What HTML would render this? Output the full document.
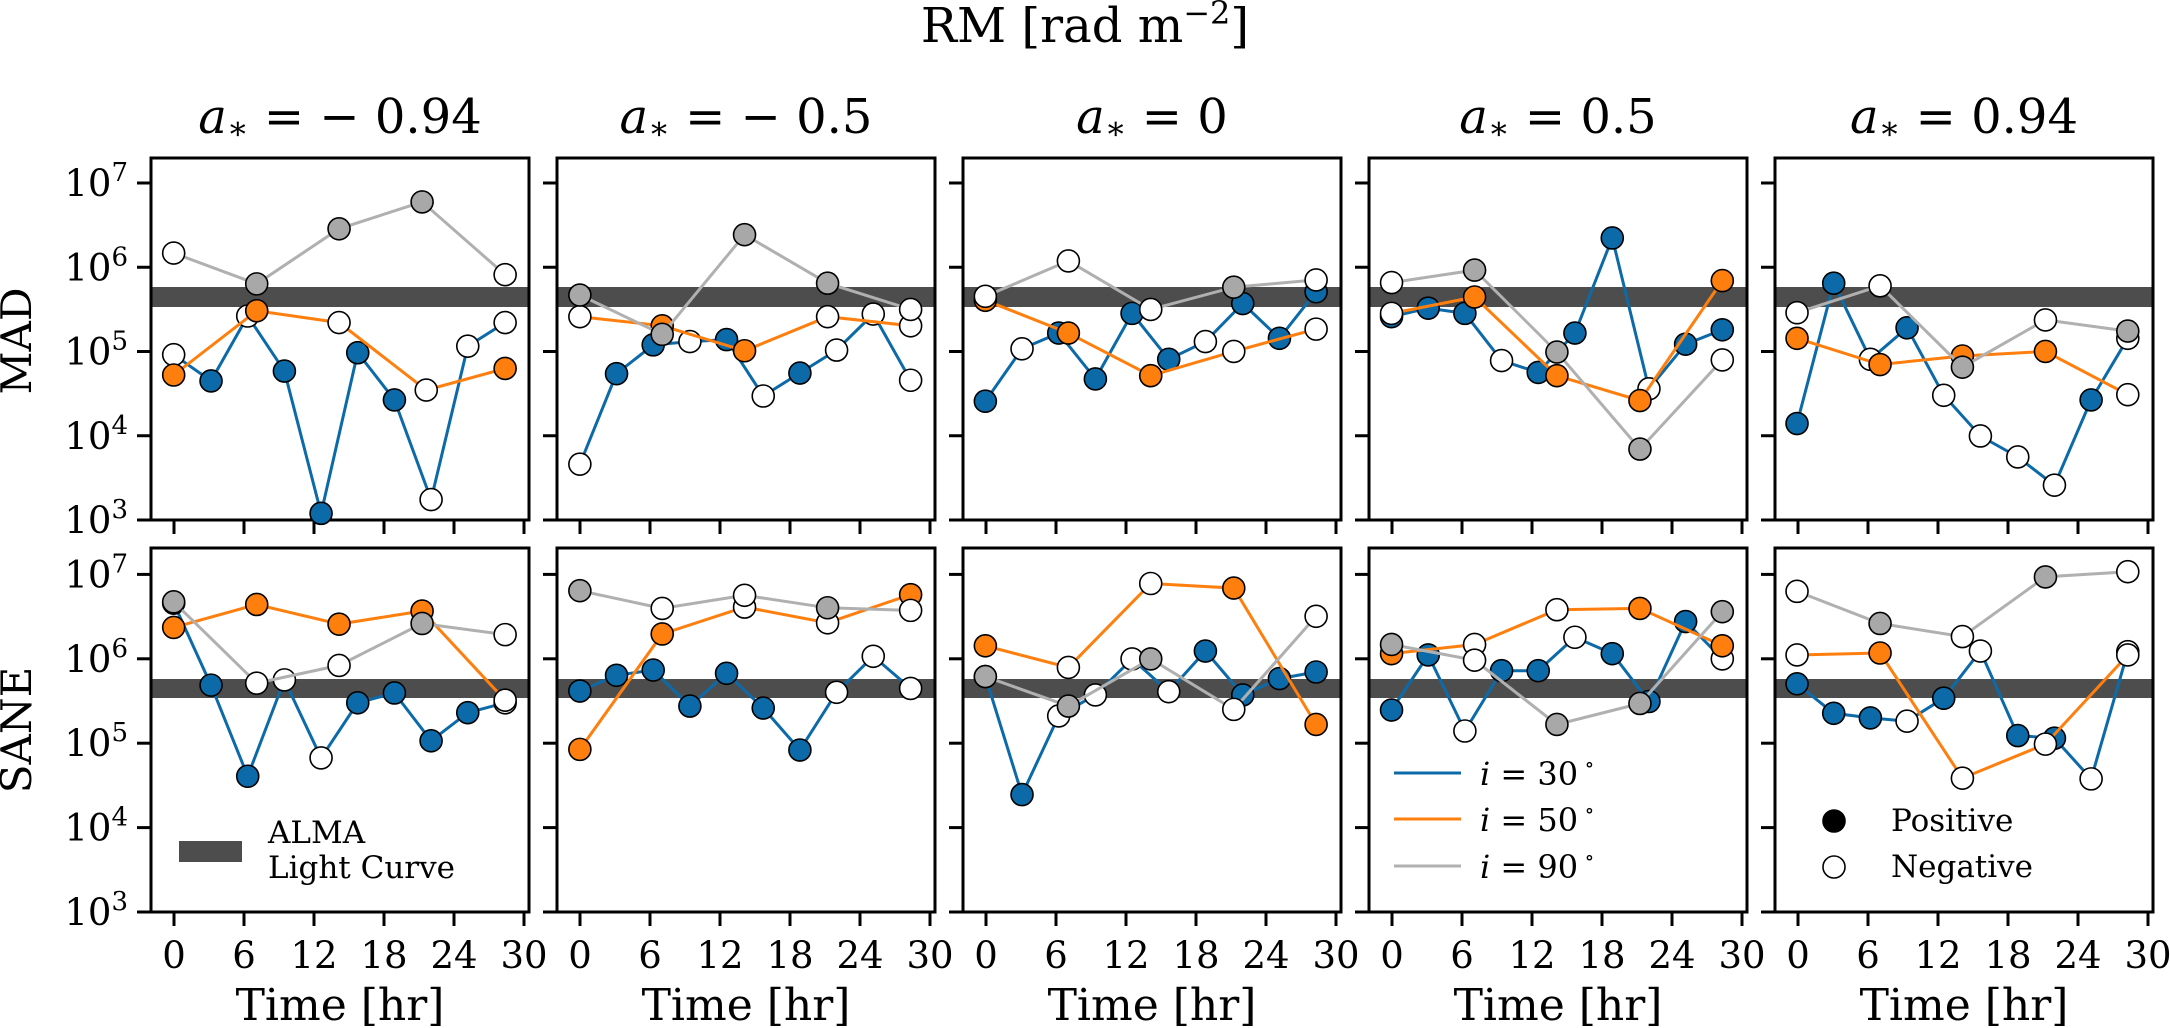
<!DOCTYPE html>
<html><head><meta charset="utf-8"><style>
html,body{margin:0;padding:0;background:#fff;}
svg{display:block;font-family:"DejaVu Serif","Liberation Serif",serif;}
</style></head><body>
<svg id="s" width="2170" height="1028" viewBox="0 0 2170 1028" xmlns="http://www.w3.org/2000/svg">
<text x="1085" y="42" font-size="48" text-anchor="middle">RM [rad m<tspan font-size="32" dy="-18">−2</tspan><tspan dy="18">]</tspan></text>
</svg>
<script>
const S=document.getElementById('s');const NS='http://www.w3.org/2000/svg';
function el(t,a,txt){const e=document.createElementNS(NS,t);for(const k in a)e.setAttribute(k,a[k]);if(txt!==undefined)e.textContent=txt;S.appendChild(e);return e;}
const fx=1085/1568, fy=1028/1568;
const B='#0d6aa8',O='#ff7f0e',G='#b0b0b0',GF='#a8a8a8';
const rows=[{top:158,bot:520,t7:183,dec:84.25,band:[287,307]},{top:548,bot:912,t7:574.4,dec:84.4,band:[679,698]}];
const titles=['= − 0.94','= − 0.5','= 0','= 0.5','= 0.94'];
for(let k=0;k<5;k++){
 const L=151+406*k,W=378;
 el('text',{x:L+W/2,y:133,'font-size':48,'text-anchor':'middle'}).innerHTML='<tspan font-style="italic">a</tspan><tspan font-size="32" dy="6">∗</tspan><tspan dy="-6"> '+titles[k]+'</tspan>';
 rows.forEach((r,ri)=>{
  el('rect',{x:L,y:r.band[0],width:W,height:r.band[1]-r.band[0],fill:'#4d4d4d'});
  for(let i=0;i<5;i++){const y=r.t7+r.dec*i;el('line',{x1:L-14,x2:L,y1:y,y2:y,stroke:'#000','stroke-width':3});
   if(k==0){const t=el('text',{x:128,y:y+13,'font-size':37,'text-anchor':'end'});t.innerHTML='10<tspan font-size="26" dy="-15">'+(7-i)+'</tspan>';}}
  for(let i=0;i<6;i++){const x=L+23+i*70;el('line',{x1:x,x2:x,y1:r.bot,y2:r.bot+14,stroke:'#000','stroke-width':3});
   if(ri==1)el('text',{x:x,y:968,'font-size':37,'text-anchor':'middle'},String(i*6));}
  el('rect',{x:L,y:r.top,width:W,height:r.bot-r.top,fill:'none',stroke:'#000','stroke-width':3});
 });
 el('text',{x:L+W/2,y:1020,'font-size':44,'text-anchor':'middle'},'Time [hr]');
}
el('text',{x:31,y:341,'font-size':42,'text-anchor':'middle',transform:'rotate(-90 31 341)'},'MAD');
el('text',{x:31,y:730,'font-size':42,'text-anchor':'middle',transform:'rotate(-90 31 730)'},'SANE');
const D=[
[B,[[251,541,0],[305,581,1],[358,482,0],[411,566,1],[464,783,1],[517,538,1],[570,610,1],[623,762,0],[676,528,0],[730,492,0]]],
[O,[[251,572,1],[371,474,1],[490,492,0],[616,595,0],[730,562,1]]],
[G,[[251,386,0],[371,433,1],[490,349,1],[610,308,1],[730,419,0]]],
[B,[[251,920,1],[305,1045,1],[358,1184,1],[411,1037,0],[464,1156,0],[517,1072,1],[570,1057,1],[623,1130,1],[676,1087,1],[730,1072,0]]],
[O,[[251,957,1],[371,922,1],[490,952,1],[610,932,1],[730,1068,0]]],
[G,[[251,918,1],[371,1042,0],[490,1015,0],[610,951,1],[730,968,0]]],
[B,[[838,708,0],[891,570,1],[944,526,1],[997,521,0],[1050,518,1],[1103,604,0],[1156,569,1],[1209,534,0],[1262,479,0],[1316,580,0]]],
[O,[[838,483,0],[957,497,1],[1076,535,1],[1196,483,0],[1316,497,0]]],
[G,[[838,450,1],[957,510,1],[1076,358,1],[1196,432,1],[1316,472,0]]],
[B,[[838,1054,1],[891,1030,1],[944,1022,1],[997,1077,1],[1050,1027,1],[1103,1080,1],[1156,1144,1],[1209,1056,0],[1262,1001,0],[1316,1050,0]]],
[O,[[838,1143,1],[957,967,1],[1076,926,0],[1196,950,0],[1316,907,1]]],
[G,[[838,901,1],[957,928,0],[1076,908,0],[1196,927,1],[1316,931,0]]],
[B,[[1424,612,1],[1477,532,0],[1530,508,1],[1583,578,1],[1636,478,1],[1689,548,1],[1742,521,0],[1796,463,1],[1849,516,1],[1902,445,1]]],
[O,[[1424,458,1],[1544,508,1],[1663,573,1],[1783,536,0],[1902,502,0]]],
[G,[[1424,452,0],[1544,398,0],[1663,472,0],[1783,438,1],[1902,427,0]]],
[B,[[1424,1032,1],[1477,1212,1],[1530,1092,0],[1583,1060,0],[1636,1005,0],[1689,1055,0],[1742,993,1],[1796,1060,1],[1849,1035,1],[1902,1025,1]]],
[O,[[1424,985,1],[1544,1018,0],[1663,890,0],[1783,897,1],[1902,1105,1]]],
[G,[[1424,1032,1],[1544,1077,1],[1663,1005,1],[1783,1082,0],[1902,940,0]]],
[B,[[2011,483,1],[2064,470,1],[2117,478,1],[2170,550,0],[2223,568,1],[2276,508,1],[2330,363,1],[2383,593,0],[2436,525,1],[2489,503,1]]],
[O,[[2011,478,0],[2131,453,1],[2250,573,1],[2370,611,1],[2489,428,1]]],
[G,[[2011,431,0],[2131,412,1],[2250,537,1],[2370,685,1],[2489,549,0]]],
[B,[[2011,1083,1],[2064,999,1],[2117,1115,0],[2170,1023,1],[2223,1023,1],[2276,972,0],[2330,997,1],[2383,1070,1],[2436,948,1],[2489,1005,0]]],
[O,[[2011,997,1],[2131,983,0],[2250,930,0],[2370,928,1],[2489,985,1]]],
[G,[[2011,983,1],[2131,1007,0],[2250,1105,1],[2370,1073,1],[2489,933,1]]],
[B,[[2597,646,1],[2650,432,1],[2703,548,0],[2756,500,1],[2809,603,0],[2862,665,0],[2916,697,0],[2969,740,0],[3022,610,1],[3075,516,0]]],
[O,[[2597,516,1],[2717,556,1],[2836,543,1],[2956,536,1],[3075,602,0]]],
[G,[[2597,477,0],[2717,436,0],[2836,560,1],[2956,488,0],[3075,505,1]]],
[B,[[2597,1043,1],[2650,1088,1],[2703,1095,1],[2756,1100,0],[2809,1065,1],[2862,993,0],[2916,1122,1],[2969,1126,1],[3022,1188,0],[3075,994,0]]],
[O,[[2597,999,0],[2717,996,1],[2836,1187,0],[2956,1135,0],[3075,999,0]]],
[G,[[2597,902,0],[2717,951,1],[2836,971,0],[2956,880,1],[3075,872,0]]]
];
D.forEach(([c,pts])=>{
 const P=pts.map(p=>[p[0]*fx,p[1]*fy,p[2]]);
 el('polyline',{points:P.map(p=>p[0].toFixed(1)+','+p[1].toFixed(1)).join(' '),fill:'none',stroke:c,'stroke-width':3});
 const fc=c==G?GF:c;
 P.forEach(p=>el('circle',{cx:p[0],cy:p[1],r:11,fill:p[2]?fc:'#fff',stroke:'#000','stroke-width':1.6}));
});
el('rect',{x:179,y:841,width:63,height:21,fill:'#4d4d4d'});
el('text',{x:268,y:843,'font-size':31},'ALMA');
el('text',{x:268,y:878,'font-size':31},'Light Curve');
[[B,773,'30'],[O,819,'50'],[G,866,'90']].forEach(([c,y,t])=>{
 el('line',{x1:1394,x2:1461,y1:y,y2:y,stroke:c,'stroke-width':3});
 el('text',{x:1480,y:y+12,'font-size':32}).innerHTML='<tspan font-style="italic">i</tspan> = '+t+'<tspan font-size="20" dy="-14"> ∘</tspan>';
});
el('circle',{cx:1834,cy:821,r:11,fill:'#000',stroke:'#000','stroke-width':1.6});
el('circle',{cx:1834,cy:867,r:11,fill:'#fff',stroke:'#000','stroke-width':1.6});
el('text',{x:1891,y:831,'font-size':31},'Positive');
el('text',{x:1891,y:877,'font-size':31},'Negative');
</script>
</body></html>
